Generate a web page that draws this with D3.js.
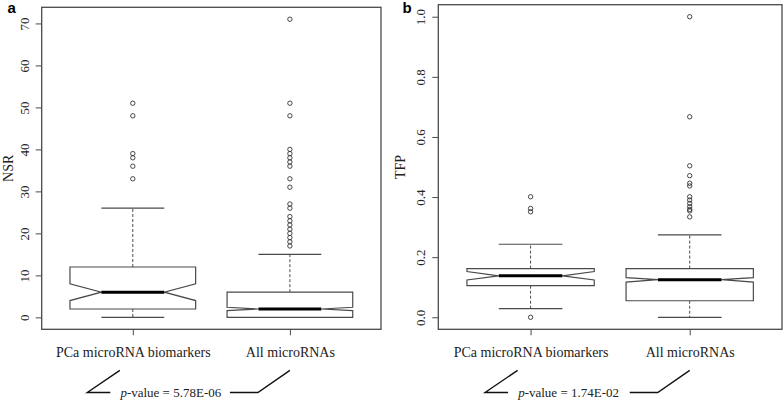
<!DOCTYPE html>
<html>
<head>
<meta charset="utf-8">
<script src="https://cdn.jsdelivr.net/npm/d3@7"></script>
<style>
  body { margin: 0; background: #fff; }
  svg text { font-family: 'Liberation Serif', 'Times New Roman', serif; fill: #222; }
</style>
</head>
<body>
<div id="chart"></div>
<script>
// groups on the x axis
const groups = ["PCa microRNA biomarkers", "All microRNAs"];

// panel a: NSR box statistics, one value per group
const nsrLow = [0, 0];
const nsrQ1 = [2, 0];
const nsrMedian = [6, 2];
const nsrQ3 = [12, 6];
const nsrHigh = [26, 15];
const nsrNotchLo = [4.0, 1.6];
const nsrNotchHi = [8.0, 2.4];
const nsrOutliersPCa = [33, 36, 38, 39, 48, 51];
const nsrOutliersAll = [17, 18, 19, 20, 21, 22, 23, 24, 26, 27, 31, 33, 36, 37, 38, 39, 40, 48, 51, 71];
const nsrTicks = [0, 10, 20, 30, 40, 50, 60, 70];

// panel b: TFP box statistics
const tfpLow = [0.029, 0];
const tfpQ1 = [0.105, 0.055];
const tfpMedian = [0.138, 0.125];
const tfpQ3 = [0.162, 0.162];
const tfpHigh = [0.243, 0.274];
const tfpNotchLo = [0.124, 0.117];
const tfpNotchHi = [0.152, 0.132];
const tfpOutliersPCa = [0, 0.351, 0.362, 0.401];
const tfpOutliersAll = [0.334, 0.354, 0.359, 0.368, 0.379, 0.39, 0.401, 0.437, 0.446, 0.471, 0.504, 0.667, 1.0];
const tfpTicks = [0, 0.2, 0.4, 0.6, 0.8, 1.0];

const width = 784, height = 403;
const lineCol = "#4a4a4a";
const serif = "'Liberation Serif', 'Times New Roman', serif";

const svg = d3.select("#chart")
  .append("svg")
  .attr("width", width)
  .attr("height", height)
  .attr("viewBox", [0, 0, width, height]);

function drawPanel(p) {
  const g = svg.append("g");

  // R style: 4% padding on both axes
  const x = d3.scaleLinear().domain([0.42, 2.58]).range([p.left, p.right]);
  const ext = p.yMax - p.yMin;
  const y = d3.scaleLinear()
    .domain([p.yMin - 0.04 * ext, p.yMax + 0.04 * ext])
    .range([p.bottom, p.top]);

  const stats = groups.map((name, i) => ({
    i: i + 1, lo: p.low[i], q1: p.q1[i], med: p.median[i], q3: p.q3[i],
    hi: p.high[i], nlo: p.notchLo[i], nhi: p.notchHi[i], out: p.outliers[i]
  }));

  const w = 0.4;  // half box width in x units

  // y axis
  g.append("g")
    .attr("transform", `translate(${p.left},0)`)
    .call(d3.axisLeft(y).tickValues(p.ticks).tickSize(6).tickFormat(p.fmt))
    .attr("font-family", serif)
    .attr("font-size", 13)
    .call(a => a.select(".domain").remove())
    .call(a => a.selectAll("line").attr("stroke", lineCol))
    .call(a => a.selectAll("text")
      .attr("transform", "rotate(-90)")
      .attr("x", 0).attr("y", -13).attr("dy", 0)
      .attr("text-anchor", "middle")
      .attr("fill", "#222"));

  // x axis
  g.append("g")
    .attr("transform", `translate(0,${p.bottom})`)
    .call(d3.axisBottom(x).tickValues([1, 2]).tickSize(6).tickFormat(d => groups[d - 1]))
    .attr("font-family", serif)
    .attr("font-size", 14)
    .call(a => a.select(".domain").remove())
    .call(a => a.selectAll("line").attr("stroke", lineCol))
    .call(a => a.selectAll("text")
      .attr("y", 18)
      .attr("fill", "#222"));

  // frame
  g.append("rect")
    .attr("x", p.left).attr("y", p.top)
    .attr("width", p.right - p.left).attr("height", p.bottom - p.top)
    .attr("fill", "none").attr("stroke", lineCol).attr("stroke-width", 1.3);

  const box = g.selectAll(".box").data(stats).join("g").attr("class", "box");

  // whiskers (dashed)
  box.append("line")
    .attr("x1", d => x(d.i)).attr("x2", d => x(d.i))
    .attr("y1", d => y(d.q3)).attr("y2", d => y(d.hi))
    .attr("stroke", lineCol).attr("stroke-dasharray", "3,2");
  box.append("line")
    .attr("x1", d => x(d.i)).attr("x2", d => x(d.i))
    .attr("y1", d => y(d.q1)).attr("y2", d => y(d.lo))
    .attr("stroke", lineCol).attr("stroke-dasharray", "3,2");

  // caps
  for (const key of ["hi", "lo"]) {
    box.append("line")
      .attr("x1", d => x(d.i - w / 2)).attr("x2", d => x(d.i + w / 2))
      .attr("y1", d => y(d[key])).attr("y2", d => y(d[key]))
      .attr("stroke", lineCol).attr("stroke-width", 1.2);
  }

  // notched box
  box.append("path")
    .attr("d", d => d3.line()([
      [x(d.i - w), y(d.q1)], [x(d.i - w), y(d.nlo)], [x(d.i - w / 2), y(d.med)],
      [x(d.i - w), y(d.nhi)], [x(d.i - w), y(d.q3)], [x(d.i + w), y(d.q3)],
      [x(d.i + w), y(d.nhi)], [x(d.i + w / 2), y(d.med)], [x(d.i + w), y(d.nlo)],
      [x(d.i + w), y(d.q1)]
    ]) + "Z")
    .attr("fill", "#fff").attr("stroke", lineCol).attr("stroke-width", 1.2);

  // median
  box.append("line")
    .attr("x1", d => x(d.i - w / 2)).attr("x2", d => x(d.i + w / 2))
    .attr("y1", d => y(d.med)).attr("y2", d => y(d.med))
    .attr("stroke", "#000").attr("stroke-width", 3);

  // outliers
  box.selectAll("circle")
    .data(d => d.out.map(v => ({ i: d.i, v })))
    .join("circle")
    .attr("cx", d => x(d.i)).attr("cy", d => y(d.v))
    .attr("r", 2.2)
    .attr("fill", "none").attr("stroke", "#333").attr("stroke-width", 0.9);

  // y label
  svg.append("text")
    .attr("transform", `translate(${p.yLabelX},${(p.top + p.bottom) / 2}) rotate(-90)`)
    .attr("text-anchor", "middle")
    .attr("font-size", 14)
    .text(p.yLabel);

  // panel letter
  svg.append("text")
    .attr("x", p.letterX).attr("y", 12.7)
    .style("font-family", "'Liberation Sans', Arial, sans-serif")
    .style("font-weight", "bold")
    .style("font-size", "15px")
    .style("fill", "#000")
    .text(p.letter);

  // p-value bracket
  const x1 = x(1), x2 = x(2), yb = 392.5, yt = 370.3;
  const bracket = d3.line();
  g.append("path")
    .attr("d", bracket([[x1 - 13, yt], [x1 - 45.5, yb], [x1 - 22.5, yb]]))
    .attr("fill", "none").attr("stroke", "#111").attr("stroke-width", 1.4);
  g.append("path")
    .attr("d", bracket([[x2 - 60, yb], [x2 - 32, yb], [x2, yt]]))
    .attr("fill", "none").attr("stroke", "#111").attr("stroke-width", 1.4);

  const pt = g.append("text")
    .attr("x", x1 + 38).attr("y", 396.5)
    .attr("text-anchor", "middle")
    .attr("font-size", 13);
  pt.append("tspan").style("font-style", "italic").text("p");
  pt.append("tspan").text("-value = " + p.pValue);
}

drawPanel({
  left: 41.7, right: 381, top: 7.3, bottom: 329.3,
  yMin: 0, yMax: 71, ticks: nsrTicks, fmt: d3.format("d"),
  low: nsrLow, q1: nsrQ1, median: nsrMedian, q3: nsrQ3, high: nsrHigh,
  notchLo: nsrNotchLo, notchHi: nsrNotchHi,
  outliers: [nsrOutliersPCa, nsrOutliersAll],
  yLabel: "NSR", yLabelX: 13, letter: "a", letterX: 7.5, pValue: "5.78E-06"
});

drawPanel({
  left: 438.3, right: 782, top: 4.7, bottom: 329.3,
  yMin: 0, yMax: 1, ticks: tfpTicks, fmt: d3.format(".1f"),
  low: tfpLow, q1: tfpQ1, median: tfpMedian, q3: tfpQ3, high: tfpHigh,
  notchLo: tfpNotchLo, notchHi: tfpNotchHi,
  outliers: [tfpOutliersPCa, tfpOutliersAll],
  yLabel: "TFP", yLabelX: 405, letter: "b", letterX: 402.5, pValue: "1.74E-02"
});
</script>
</body>
</html>
